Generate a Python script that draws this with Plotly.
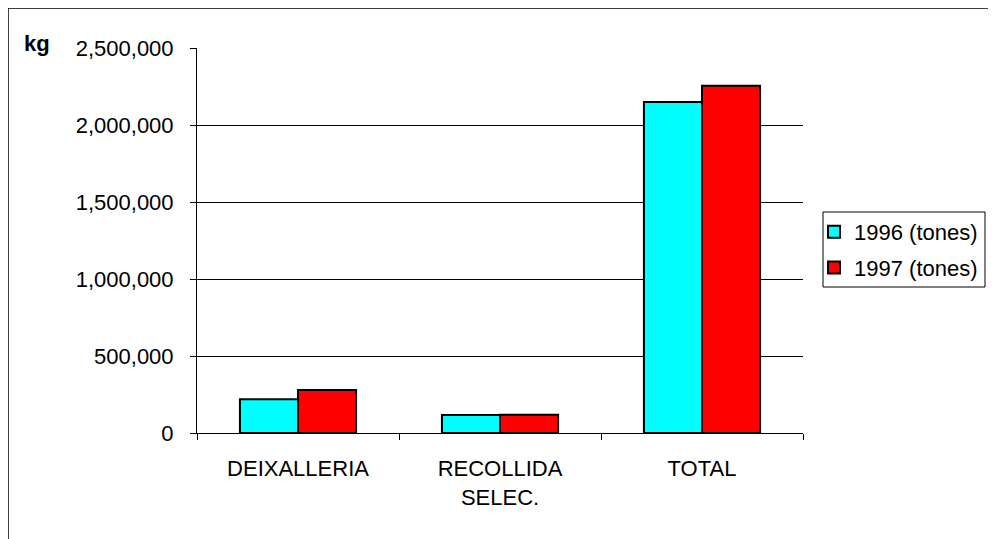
import plotly.graph_objects as go

categories = ["DEIXALLERIA", "RECOLLIDA<br>SELEC.", "TOTAL"]
values_1996 = [219000, 117000, 2149000]
values_1997 = [279000, 118000, 2255000]
y_ticks = [0, 500000, 1000000, 1500000, 2000000, 2500000]
y_labels = ["0", "500,000", "1,000,000", "1,500,000", "2,000,000", "2,500,000"]

FONT = "Liberation Sans, Arial, sans-serif"

fig = go.Figure()
fig.add_trace(go.Bar(x=categories, y=values_1996, name="1996 (tones)", legendgroup="a",
                     marker=dict(color="#00FFFF", line=dict(color="black", width=2))))
fig.add_trace(go.Bar(x=categories, y=values_1997, name="1997 (tones)", legendgroup="b",
                     marker=dict(color="#FF0000", line=dict(color="black", width=2))))

# page has an 8px body margin, so the figure is shifted by 8px right and down
L, T = 189, 40
PW, PH = 606, 385


def px_x(x):
    return (x - L) / PW


def px_y(y):
    return (PH + T - y) / PH


# outer frame
fig.add_shape(type="rect", xref="paper", yref="paper",
              x0=px_x(0), x1=1.5, y0=-0.5, y1=px_y(0),
              line=dict(color="black", width=1.5))

# legend box
fig.add_shape(type="rect", xref="paper", yref="paper",
              x0=px_x(815), x1=px_x(977), y0=px_y(279), y1=px_y(204),
              line=dict(color="black", width=1), fillcolor="white", layer="below")

fig.add_annotation(text="<b>kg</b>", xref="paper", yref="paper",
                   x=px_x(14), y=px_y(35), xanchor="left", yanchor="middle",
                   showarrow=False, font=dict(family=FONT, size=22, color="black"))

fig.update_layout(
    width=996, height=539,
    barmode="group", bargap=0.425, bargroupgap=0,
    paper_bgcolor="white", plot_bgcolor="rgba(0,0,0,0)",
    margin=dict(l=L, r=996 - L - PW, t=T, b=539 - T - PH),
    font=dict(family=FONT, size=22, color="black"),
    xaxis=dict(
        showline=True, linecolor="black", linewidth=1,
        ticks="outside", tickson="boundaries", ticklen=6, tickcolor="black",
        showgrid=False, ticklabelstandoff=16,
    ),
    yaxis=dict(
        range=[0, 2500000], tickvals=y_ticks, ticktext=y_labels,
        showline=True, linecolor="black", linewidth=1,
        ticks="outside", ticklen=6, tickcolor="black",
        showgrid=True, gridcolor="black", gridwidth=1,
        zeroline=False, ticklabelstandoff=12,
    ),
    legend=dict(
        x=px_x(806), y=px_y(203), xanchor="left", yanchor="top",
        borderwidth=0, bgcolor="rgba(0,0,0,0)",
        font=dict(family=FONT, size=22), itemwidth=30, tracegroupgap=4,
    ),
    showlegend=True,
)

fig.write_html("out.html")
